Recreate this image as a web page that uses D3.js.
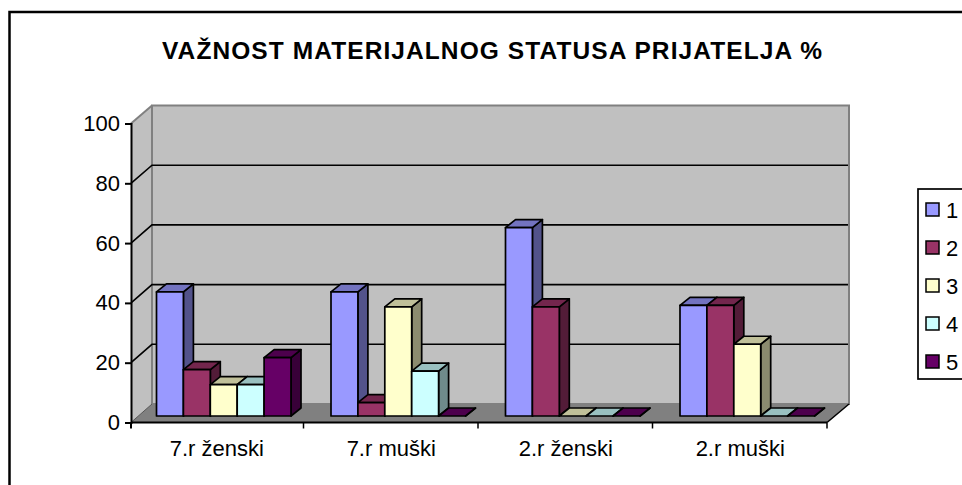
<!DOCTYPE html>
<html>
<head>
<meta charset="utf-8">
<script src="https://cdn.jsdelivr.net/npm/d3@7"></script>
<style>
html, body { margin: 0; padding: 0; background: #fff; overflow: hidden; }
text { font-family: "Liberation Sans", Arial, sans-serif; fill: #000; }
</style>
</head>
<body>
<div id="chart"></div>
<script>
const WIDTH = 962;
const HEIGHT = 485;

const title = "VAŽNOST MATERIJALNOG STATUSA PRIJATELJA %";
const categories = ["7.r ženski", "7.r muški", "2.r ženski", "2.r muški"];
const seriesNames = ["1", "2", "3", "4", "5"];
const seriesColors = ["#9999ff", "#993366", "#ffffcc", "#ccffff", "#660066"];
const series1 = [41.5, 41.5, 63, 37];
const series2 = [15.5, 4.5, 36.5, 37];
const series3 = [10.5, 36.5, 0, 24];
const series4 = [10.5, 15, 0, 0];
const series5 = [19.5, 0, 0, 0];
const allSeries = [series1, series2, series3, series4, series5];
const yTicks = [0, 20, 40, 60, 80, 100];

// 3d offsets: wall is the back of the box, bars sit in the middle of the floor
const WALL_DX = 21, WALL_DY = 18;
const BAR_DX = 10, BAR_DY = 8;
const BAR_FLOOR_DY = 6.5;
const AXIS_X = 131;

const svg = d3.select("#chart").append("svg")
	.attr("width", WIDTH)
	.attr("height", HEIGHT)
	.style("display", "block");

// outer frame runs off the right and bottom of the picture
svg.append("rect")
	.attr("x", 9.5).attr("y", 12)
	.attr("width", 1000).attr("height", 1000)
	.attr("fill", "#fff")
	.attr("stroke", "#000")
	.attr("stroke-width", 2.5);

svg.append("text")
	.attr("x", 492).attr("y", 59)
	.attr("text-anchor", "middle")
	.attr("font-size", 24.5)
	.attr("font-weight", "bold")
	.attr("textLength", 660)
	.attr("lengthAdjust", "spacing")
	.text(title);

const x0 = d3.scaleBand().domain(categories).range([129, 827]);
const x1 = d3.scaleBand().domain(seriesNames).range([27.5, 162]);
const y = d3.scaleLinear().domain([0, 100]).range([422.5, 123.5]);
const yBack = d3.scaleLinear().domain([0, 100]).range([404, 105.5]);

const pts = function(a) { return a.map(function(p) { return p.join(","); }).join(" "); };
const right = x0.range()[1];

// side wall, back wall, floor
svg.append("polygon")
	.attr("points", pts([[AXIS_X, y(0)], [AXIS_X, y(100)], [AXIS_X + WALL_DX, yBack(100)], [AXIS_X + WALL_DX, yBack(0)]]))
	.attr("fill", "#c0c0c0");
svg.append("rect")
	.attr("x", AXIS_X + WALL_DX).attr("y", yBack(100))
	.attr("width", right + 1 - AXIS_X)
	.attr("height", yBack(0) - yBack(100))
	.attr("fill", "#c0c0c0")
	.attr("stroke", "#808080")
	.attr("stroke-width", 2);
svg.append("polyline")
	.attr("points", pts([[AXIS_X, y(100)], [AXIS_X + WALL_DX, yBack(100)]]))
	.attr("fill", "none")
	.attr("stroke", "#808080")
	.attr("stroke-width", 2);
svg.append("polygon")
	.attr("points", pts([[AXIS_X, y(0)], [AXIS_X + WALL_DX, yBack(0)], [right + WALL_DX + 1, yBack(0)], [right, y(0)]]))
	.attr("fill", "#808080");

// gridlines, along the back and down the side wall
yTicks.filter(function(d) { return d > 0 && d < 100; }).forEach(function(d) {
	svg.append("polyline")
		.attr("points", pts([[AXIS_X, y(d)], [AXIS_X + WALL_DX, yBack(d)], [right + WALL_DX, yBack(d)]]))
		.attr("fill", "none")
		.attr("stroke", "#000")
		.attr("stroke-width", 1.6);
});
svg.append("line")
	.attr("x1", AXIS_X).attr("y1", y(0))
	.attr("x2", AXIS_X + WALL_DX).attr("y2", yBack(0))
	.attr("stroke", "#555").attr("stroke-width", 1);
svg.append("line")
	.attr("x1", right).attr("y1", y(0))
	.attr("x2", right + WALL_DX + 1).attr("y2", yBack(0))
	.attr("stroke", "#000").attr("stroke-width", 1.5);

// bars
const floorY = y(0) - BAR_FLOOR_DY;
const w = x1.bandwidth();
categories.forEach(function(cat, c) {
	allSeries.forEach(function(values, s) {
		const g = svg.append("g")
			.attr("stroke", "#000")
			.attr("stroke-width", 1.7)
			.attr("stroke-linejoin", "round");
		const bx = x0(cat) + x1(seriesNames[s]);
		const h = y(0) - y(values[c]);
		const top = floorY - h;
		const col = d3.color(seriesColors[s]);
		g.append("polygon")
			.attr("points", pts([[bx + w, top], [bx + w + BAR_DX, top - BAR_DY], [bx + w + BAR_DX, floorY - BAR_DY], [bx + w, floorY]]))
			.attr("fill", col.darker(1.7));
		g.append("polygon")
			.attr("points", pts([[bx, top], [bx + BAR_DX, top - BAR_DY], [bx + w + BAR_DX, top - BAR_DY], [bx + w, top]]))
			.attr("fill", col.darker(0.8));
		if (h > 0) {
			g.append("rect")
				.attr("x", bx).attr("y", top)
				.attr("width", w).attr("height", h)
				.attr("fill", col);
		}
	});
});

// axes
const yAxis = d3.axisLeft(y).tickValues(yTicks).tickSize(6).tickPadding(5);
const gy = svg.append("g").attr("transform", "translate(" + AXIS_X + ",0)").call(yAxis);
gy.attr("font-family", null);
gy.select(".domain").attr("stroke-width", 2);
gy.selectAll(".tick line").attr("stroke-width", 2);
gy.selectAll("text").attr("font-size", 22);

svg.append("line")
	.attr("x1", AXIS_X).attr("y1", y(0))
	.attr("x2", right).attr("y2", y(0))
	.attr("stroke", "#000").attr("stroke-width", 2);
categories.forEach(function(cat) {
	const tx = x0(cat) + x0.bandwidth();
	svg.append("line")
		.attr("x1", tx).attr("y1", y(0))
		.attr("x2", tx).attr("y2", y(0) + 6)
		.attr("stroke", "#000").attr("stroke-width", 1.5);
	svg.append("text")
		.attr("x", x0(cat) + x0.bandwidth() / 2 + 0.5)
		.attr("y", 456)
		.attr("text-anchor", "middle")
		.attr("font-size", 22)
		.text(cat);
});
svg.append("line")
	.attr("x1", AXIS_X).attr("y1", y(0))
	.attr("x2", AXIS_X).attr("y2", y(0) + 6)
	.attr("stroke", "#000").attr("stroke-width", 2);

// legend, cut off by the edge of the picture
const legend = svg.append("g");
legend.append("rect")
	.attr("x", 918).attr("y", 189)
	.attr("width", 100).attr("height", 190)
	.attr("fill", "#fff")
	.attr("stroke", "#000")
	.attr("stroke-width", 1.7);
const rows = legend.selectAll("g.row")
	.data(seriesNames)
	.enter()
		.append("g")
		.attr("class", "row")
		.attr("transform", function(d, i) { return "translate(0," + (209.5 + i * 38) + ")"; });
rows.append("rect")
	.attr("x", 926).attr("y", -6.5)
	.attr("width", 13).attr("height", 13)
	.attr("fill", function(d, i) { return seriesColors[i]; })
	.attr("stroke", "#000")
	.attr("stroke-width", 1.5);
rows.append("text")
	.attr("x", 946).attr("y", 8)
	.attr("font-size", 22)
	.text(function(d) { return d; });
</script>
</body>
</html>
